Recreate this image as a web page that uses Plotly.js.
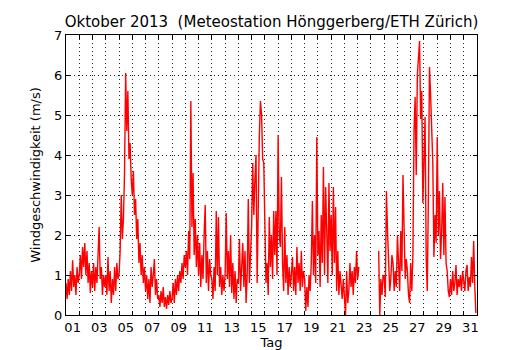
<!DOCTYPE html>
<html>
<head>
<meta charset="utf-8">
<script src="https://cdn.plot.ly/plotly-3.0.1.min.js"></script>
<style>html,body{margin:0;padding:0;background:#fff;}#chart{width:530px;height:350px;}</style>
</head>
<body>
<div id="chart"></div>
<script>
// Wind speed (m/s), 2-hourly readings per day, October 2013
const oct01 = [0.8, 0.4, 0.9, 0.5, 1.1, 0.6, 1.37, 0.7, 1.0, 0.5, 1.2, 0.8];
const oct02 = [1.0, 1.5, 0.9, 1.7, 1.2, 1.8, 1.0, 1.6, 0.8, 1.3, 0.55, 1.1];
const oct03 = [0.7, 1.3, 0.6, 1.2, 0.8, 1.4, 2.2, 0.9, 1.2, 0.5, 1.0, 0.7];
const oct04 = [1.0, 0.5, 1.45, 0.6, 1.1, 0.3, 0.9, 0.5, 1.2, 0.6, 1.3, 0.9];
const oct05 = [1.0, 1.6, 3.0, 1.9, 2.4, 3.6, 6.05, 4.6, 5.6, 3.9, 4.3, 3.4];
const oct06 = [3.0, 3.6, 2.5, 2.9, 1.9, 2.4, 1.3, 1.8, 1.0, 1.5, 0.8, 1.2];
const oct07 = [0.6, 1.0, 0.4, 0.9, 0.3, 1.2, 0.7, 1.0, 1.4, 0.5, 0.9, 0.4];
const oct08 = [0.5, 0.2, 0.6, 0.3, 0.7, 0.2, 0.45, 0.15, 0.5, 0.25, 0.6, 0.3];
const oct09 = [0.4, 0.8, 0.3, 0.9, 0.5, 1.0, 0.6, 1.1, 0.8, 1.3, 0.9, 1.5];
const oct10 = [1.2, 1.6, 1.0, 2.1, 1.4, 5.35, 2.2, 3.55, 1.5, 2.4, 1.2, 2.0];
const oct11 = [1.0, 1.8, 0.7, 1.5, 0.9, 2.0, 2.75, 0.8, 1.6, 0.6, 1.4, 1.0];
const oct12 = [0.9, 0.4, 1.2, 0.6, 2.6, 1.0, 2.45, 0.7, 1.2, 0.5, 1.0, 0.6];
const oct13 = [1.0, 2.55, 0.9, 1.6, 0.7, 2.0, 0.55, 1.3, 0.4, 1.1, 0.3, 0.9];
const oct14 = [0.8, 1.9, 0.6, 1.2, 1.8, 0.7, 1.6, 0.3, 1.0, 2.9, 0.8, 1.5];
const oct15 = [2.2, 3.8, 2.5, 3.4, 4.0, 0.8, 3.2, 4.5, 5.35, 5.0, 3.9, 3.8];
const oct16 = [2.3, 0.8, 1.3, 0.5, 2.45, 1.2, 2.0, 0.9, 2.6, 1.5, 2.6, 1.0];
const oct17 = [4.5, 2.0, 1.7, 3.45, 1.3, 0.6, 2.2, 0.8, 1.5, 0.5, 1.2, 0.7];
const oct18 = [1.0, 1.45, 0.6, 1.2, 0.5, 1.7, 0.8, 1.3, 0.6, 1.6, 0.7, 1.1];
const oct19 = [0.9, 0.1, 0.7, 0.2, 1.0, 0.6, 1.3, 2.85, 1.0, 2.0, 0.8, 4.45];
const oct20 = [1.5, 2.1, 0.7, 2.5, 1.3, 3.7, 1.0, 3.2, 2.1, 0.8, 3.3, 1.6];
const oct21 = [2.5, 1.0, 3.2, 1.3, 2.7, 0.6, 1.6, 0.5, 1.1, 0.8, 0.4, 0.9];
const oct22 = [0.45, 0.0, 1.1, 0.3, 0.6, 1.3, 0.7, 1.1, 0.5, 1.2, 0.8, 1.6];
const oct23 = [0.9, 1.2, null, null, null, null, null, null, null, null, null, null];
const oct24 = [null, null, null, null, null, null, null, 1.6, 0.0, 0.9, 0.5, 1.0];
const oct25 = [0.95, 0.45, 3.1, 2.1, 1.3, 0.6, 0.9, 1.5, 1.3, 0.6, 1.1, 0.7];
const oct26 = [2.0, 1.3, 0.6, 2.1, 1.1, 3.5, 1.95, 0.9, 1.4, 1.1, 0.5, 0.3];
const oct27 = [1.3, 0.6, 1.5, 4.6, 5.45, 3.5, 6.0, 6.45, 6.85, 4.9, 5.6, 2.8];
const oct28 = [4.0, 4.95, 1.45, 0.6, 2.95, 6.2, 5.5, 4.6, 3.8, 1.45, 2.5, 1.8];
const oct29 = [4.45, 2.0, 3.1, 1.4, 2.1, 3.3, 1.5, 2.95, 1.3, 1.1, 0.6, 0.45];
const oct30 = [0.9, 0.5, 1.1, 0.6, 0.8, 1.25, 0.5, 0.9, 0.7, 1.0, 0.6, 1.1];
const oct31 = [0.8, 0.6, 1.1, 1.25, 0.6, 0.95, 0.7, 1.45, 0.8, 1.85, 0.7, 0.05];

const days = [oct01, oct02, oct03, oct04, oct05, oct06, oct07, oct08, oct09, oct10,
  oct11, oct12, oct13, oct14, oct15, oct16, oct17, oct18, oct19, oct20,
  oct21, oct22, oct23, oct24, oct25, oct26, oct27, oct28, oct29, oct30, oct31];

const tickDays = ['01','03','05','07','09','11','13','15','17','19','21','23','25','27','29','31'];

// time axis in days since 1 Oct 00:00
const x = [], y = [];
days.forEach((vals, d) => {
  vals.forEach((v, i) => { x.push(d + i / vals.length); y.push(v); });
});
const tickPos = tickDays.map(t => parseInt(t, 10) - 0.5);

const font = {family: 'DejaVu Sans, sans-serif', size: 13, color: '#000'};
const gridDash = '1px,3px';

Plotly.newPlot('chart', [{
  type: 'scatter', mode: 'lines', x: x, y: y,
  line: {color: '#ff0000', width: 1.4}, connectgaps: false, hoverinfo: 'skip'
}], {
  width: 530, height: 350,
  margin: {l: 66, r: 53, t: 35, b: 35, pad: 0},
  paper_bgcolor: '#fff', plot_bgcolor: '#fff',
  font: font,
  showlegend: false,
  title: {text: 'Oktober 2013 \u00a0(Meteostation Hönggerberg/ETH Zürich)',
    font: {family: 'DejaVu Sans, sans-serif', size: 15, color: '#000'},
    x: 0.5, xref: 'paper', xanchor: 'center', y: 1 - 22/350, yref: 'container', yanchor: 'middle'},
  xaxis: {
    range: [0, 31], autorange: false, fixedrange: true,
    tickmode: 'array', tickvals: tickPos, ticktext: tickDays,
    ticks: 'inside', ticklen: 0, showgrid: false, zeroline: false,
    showline: true, linecolor: '#000', linewidth: 1, mirror: 'allticks',
    tickfont: font,
    minor: {tick0: 0, dtick: 1, ticks: 'inside', ticklen: 4, tickcolor: '#000', tickwidth: 1,
      showgrid: true, gridcolor: '#222', griddash: gridDash, gridwidth: 1},
    title: {text: 'Tag', font: font, standoff: 5}
  },
  yaxis: {
    range: [0, 7], autorange: false, fixedrange: true,
    tickmode: 'linear', tick0: 0, dtick: 1,
    ticks: 'inside', ticklen: 4, tickcolor: '#000', tickwidth: 1,
    showgrid: true, gridcolor: '#222', griddash: gridDash, gridwidth: 1, zeroline: false,
    showline: true, linecolor: '#000', linewidth: 1, mirror: 'allticks',
    tickfont: font,
    title: {text: 'Windgeschwindigkeit (m/s)', font: font, standoff: 10}
  }
}, {displayModeBar: false, staticPlot: true});
</script>
</body>
</html>
